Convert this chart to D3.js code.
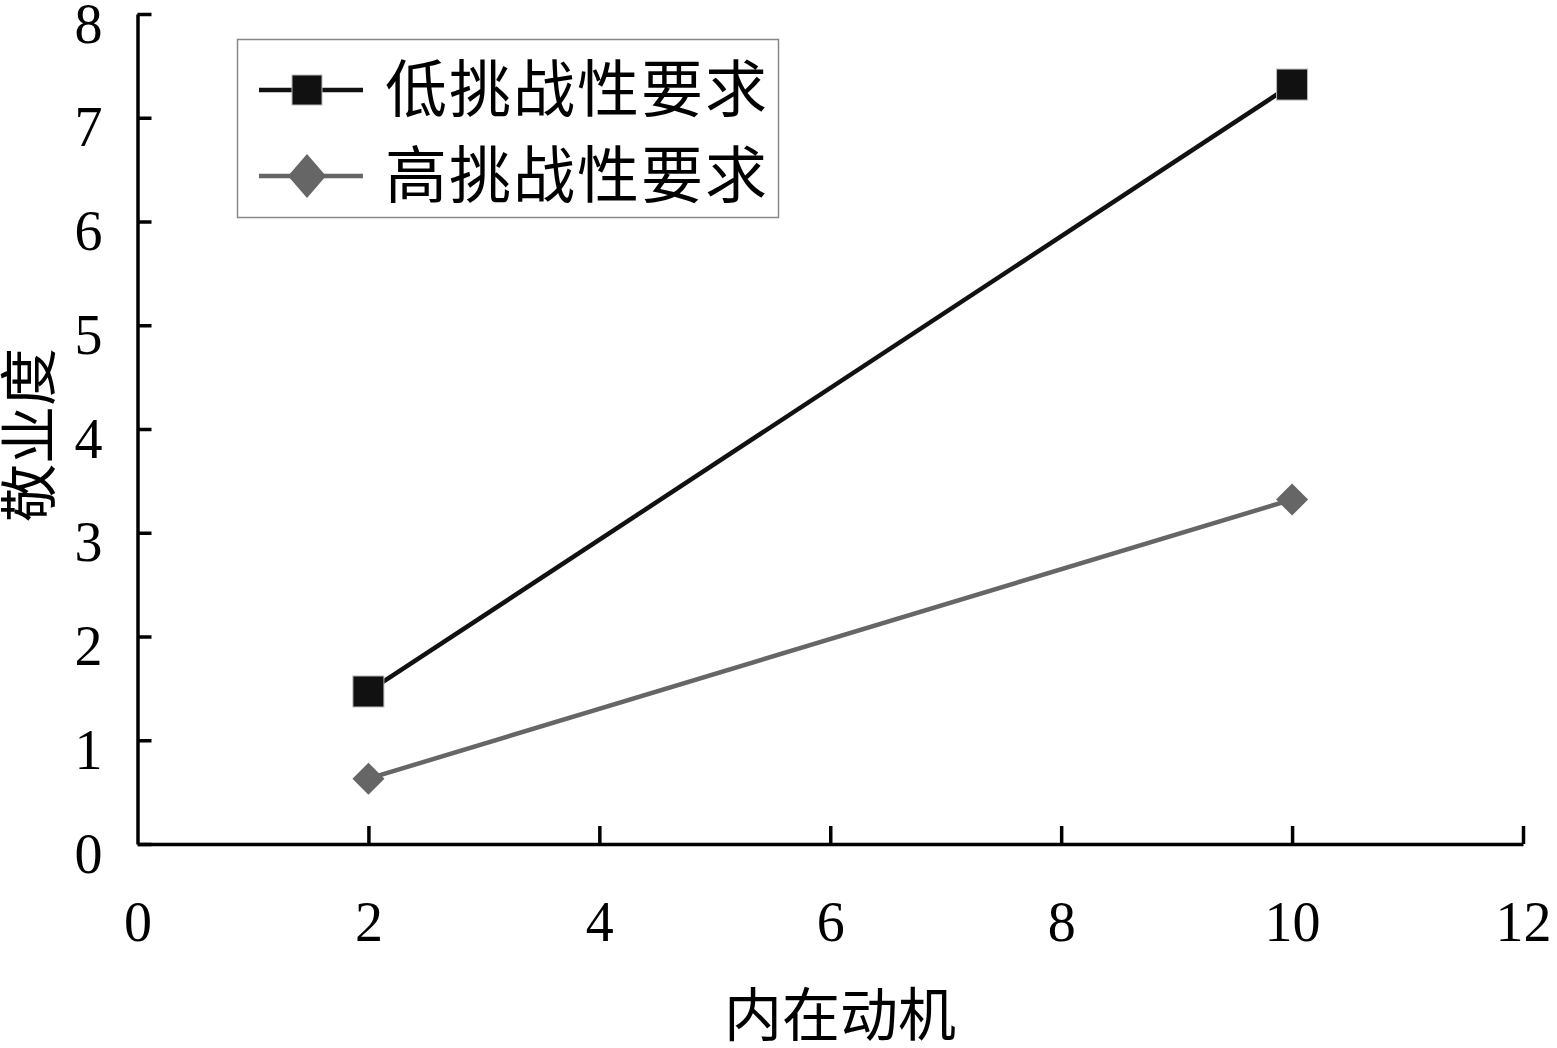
<!DOCTYPE html>
<html><head><meta charset="utf-8">
<script src="https://cdn.jsdelivr.net/npm/d3@7"></script>
<style>
html,body{margin:0;padding:0;background:#fff;}
svg{display:block;}
</style></head>
<body>
<script>
const categories = [2, 10];
const seriesNames = ["低挑战性要求", "高挑战性要求"];
const lowValues = [1.47, 7.32];
const highValues = [0.63, 3.32];
const xTicks = [0, 2, 4, 6, 8, 10, 12];
const yTicks = [0, 1, 2, 3, 4, 5, 6, 7, 8];
const xTitle = "内在动机";
const yTitle = "敬业度";

const W = 1557, H = 1048;
const svg = d3.select("body").append("svg").attr("width", W).attr("height", H);
const x = d3.scaleLinear().domain([0, 12]).range([137.5, 1523]);
const y = d3.scaleLinear().domain([0, 8]).range([844, 14]);
const numFont = "'Liberation Serif', 'Times New Roman', serif";
const cjkFont = "'Noto Sans CJK SC', sans-serif";

// axes
const yAxis = d3.axisLeft(y).tickValues(yTicks).tickSizeInner(-14).tickSizeOuter(0).tickFormat(d3.format("d"));
const gy = svg.append("g").attr("transform", `translate(${x(0)},0)`).call(yAxis);
gy.select(".domain").attr("stroke", "#000").attr("stroke-width", 3.5);
gy.selectAll(".tick line").attr("stroke", "#000").attr("stroke-width", 3.5);
gy.selectAll(".tick text").attr("x", -35).attr("dy", 0).attr("y", 28)
  .attr("font-family", numFont).attr("font-size", 56).attr("fill", "#000").attr("text-anchor", "end");

const xAxis = d3.axisBottom(x).tickValues(xTicks).tickSizeInner(-18).tickSizeOuter(0).tickFormat(d3.format("d"));
const gx = svg.append("g").attr("transform", `translate(0,${y(0)})`).call(xAxis);
gx.select(".domain").attr("stroke", "#000").attr("stroke-width", 3.5);
gx.selectAll(".tick line").attr("stroke", "#000").attr("stroke-width", 3.5);
gx.selectAll(".tick").filter(d => d === 0).select("line").remove();
gx.selectAll(".tick text").attr("y", 97).attr("dy", 0)
  .attr("font-family", numFont).attr("font-size", 56).attr("fill", "#000");

// axis titles
svg.append("text").attr("x", 840).attr("y", 1036).attr("text-anchor", "middle")
  .attr("font-family", cjkFont).attr("font-size", 58).attr("fill", "#000").text(xTitle);
svg.append("text").attr("transform", `translate(50,435) rotate(-90)`).attr("text-anchor", "middle")
  .attr("font-family", cjkFont).attr("font-size", 58).attr("fill", "#000").text(yTitle);

// series
const series = [
  {name: seriesNames[0], values: lowValues, color: "#111111", shape: "square"},
  {name: seriesNames[1], values: highValues, color: "#666666", shape: "diamond"}
];
const line = d3.line().x(d => x(d[0])).y(d => y(d[1]));
function drawMarker(g, shape, cx, cy, color, big) {
  if (shape === "square") {
    const s = big ? 30 : 31;
    g.append("rect").attr("x", cx - s/2).attr("y", cy - s/2).attr("width", s).attr("height", s)
      .attr("fill", color).attr("stroke", "#bbb").attr("stroke-width", 1);
  } else {
    const hw = big ? 19 : 16, hh = big ? 22 : 16;
    g.append("path").attr("d", `M${cx},${cy-hh}L${cx+hw},${cy}L${cx},${cy+hh}L${cx-hw},${cy}Z`)
      .attr("fill", color);
  }
}
series.forEach(s => {
  const pts = categories.map((c, i) => [c, s.values[i]]);
  svg.append("path").attr("d", line(pts)).attr("fill", "none").attr("stroke", s.color).attr("stroke-width", 4.5);
  const g = svg.append("g");
  pts.forEach(p => drawMarker(g, s.shape, x(p[0]), y(p[1]), s.color, false));
});

// legend
const lg = svg.append("g");
lg.append("rect").attr("x", 237.5).attr("y", 39.5).attr("width", 541).attr("height", 178)
  .attr("fill", "#fff").attr("stroke", "#888").attr("stroke-width", 1.5);
const legendY = [90, 176];
series.forEach((s, i) => {
  const ly = legendY[i];
  lg.append("line").attr("x1", 259).attr("x2", 363).attr("y1", ly).attr("y2", ly)
    .attr("stroke", s.color).attr("stroke-width", 4.5);
  drawMarker(lg, s.shape, 307, ly, s.color, true);
  lg.append("text").attr("x", 385).attr("y", ly + 22).attr("font-family", cjkFont)
    .attr("font-size", 62).attr("letter-spacing", 2).attr("fill", "#000").text(s.name);
});
</script>
</body></html>
